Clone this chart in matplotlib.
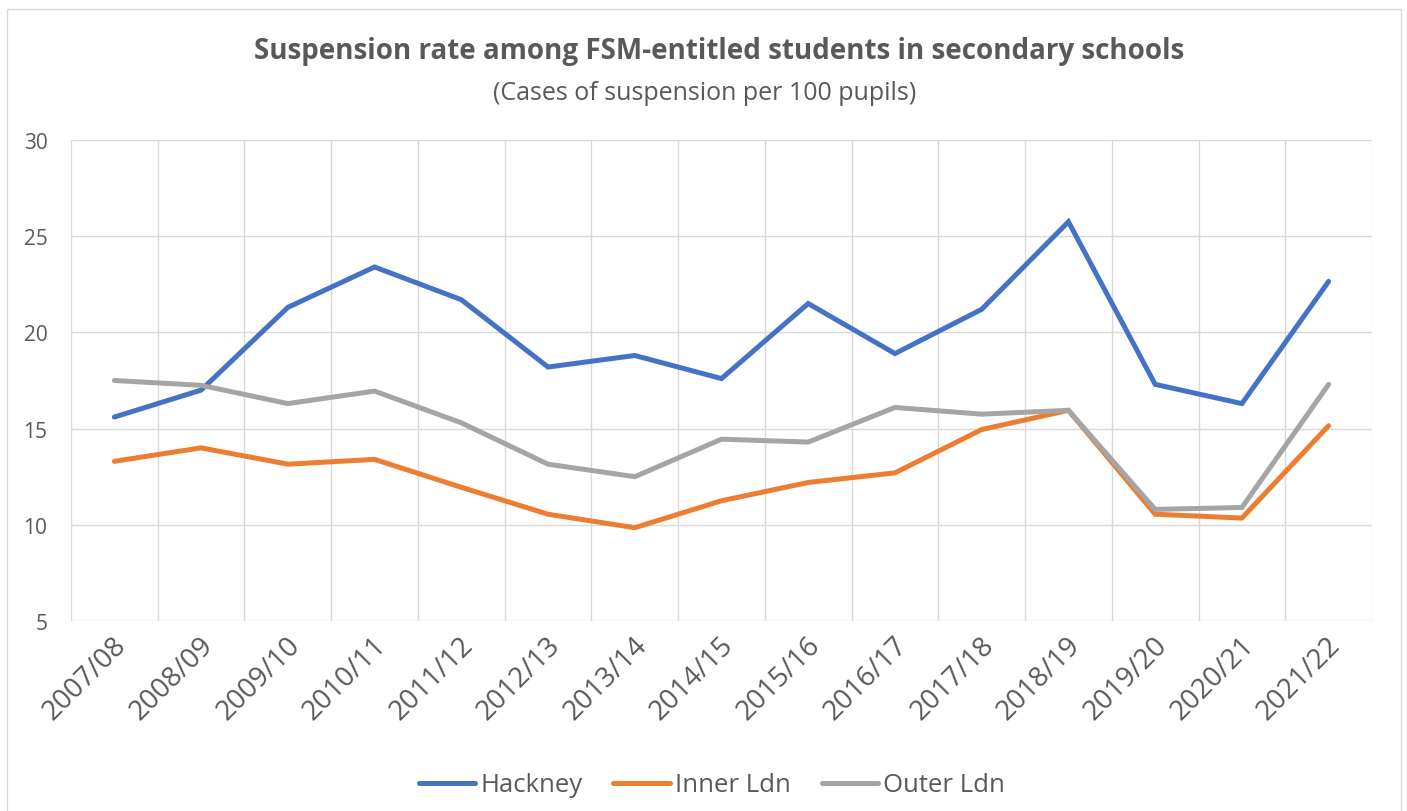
import numpy as np
import matplotlib
matplotlib.use('Agg')
import matplotlib.pyplot as plt
import matplotlib.transforms as mtransforms
from matplotlib.patches import Rectangle

# data
years = ['2007/08', '2008/09', '2009/10', '2010/11', '2011/12', '2012/13', '2013/14',
         '2014/15', '2015/16', '2016/17', '2017/18', '2018/19', '2019/20', '2020/21', '2021/22']
hackney = [15.6, 17.0, 21.3, 23.4, 21.7, 18.2, 18.8, 17.6, 21.5, 18.9, 21.2, 25.75, 17.3, 16.3, 22.65]
inner_ldn = [13.3, 14.0, 13.15, 13.4, 11.95, 10.55, 9.85, 11.25, 12.2, 12.7, 14.95, 15.95, 10.55, 10.35, 15.15]
outer_ldn = [17.5, 17.25, 16.3, 16.95, 15.3, 13.15, 12.5, 14.45, 14.3, 16.1, 15.75, 15.95, 10.8, 10.9, 17.3]

series = [('Hackney', hackney, '#4472C4'),
          ('Inner Ldn', inner_ldn, '#ED7D31'),
          ('Outer Ldn', outer_ldn, '#A5A5A5')]

plt.rcParams['font.family'] = ['Open Sans', 'DejaVu Sans']
txt = '#595959'
W, H = 1407, 812

fig = plt.figure(figsize=(W / 100, H / 100), dpi=100)
ax = fig.add_axes([71 / W, 1 - 622 / H, (1372 - 71) / W, (622 - 141) / H])

x = np.arange(len(years))
for name, vals, col in series:
    ax.plot(x, vals, color=col, lw=3.6, label=name, solid_capstyle='round',
            solid_joinstyle='miter')

ax.set_xlim(-0.5, len(years) - 0.5)
ax.set_ylim(5, 30)
ax.set_yticks(range(5, 31, 5))
ax.set_xticks(x)
ax.set_xticklabels(years, rotation=45, ha='right', va='center', rotation_mode='anchor')
ax.set_xticks(np.arange(-0.5, len(years), 1), minor=True)
ax.grid(True, axis='y', which='major', color='#D9D9D9', lw=1)
ax.grid(True, axis='x', which='minor', color='#D9D9D9', lw=1)
ax.set_axisbelow(True)
for s in ax.spines.values():
    s.set_visible(False)
ax.tick_params(axis='both', which='both', length=0, colors=txt)
ax.tick_params(axis='y', pad=17, labelsize=15)
ax.tick_params(axis='x', pad=14, labelsize=20)
shift = mtransforms.ScaledTranslation(8 / 100, 0, fig.dpi_scale_trans)
for lab in ax.get_xticklabels():
    lab.set_transform(lab.get_transform() + shift)

fig.text(719 / W, 1 - 51 / H, 'Suspension rate among FSM-entitled students in secondary schools',
         ha='center', va='center', fontsize=20, fontweight='bold', color=txt)
fig.text(705 / W, 1 - 93 / H, '(Cases of suspension per 100 pupils)',
         ha='center', va='center', fontsize=18, color=txt)

fig.legend(loc='center', bbox_to_anchor=(712 / W, 1 - 786 / H), ncol=3, frameon=False,
           fontsize=18.5, handlelength=2.2, columnspacing=1.2, handletextpad=0.2,
           labelcolor=txt)

fig.patches.append(Rectangle((7 / W, -0.01), (1401 - 7) / W, 1 - 10 / H + 0.01,
                             transform=fig.transFigure, fill=False,
                             edgecolor='#D9D9D9', lw=1))

fig.savefig('out.png', dpi=100)
